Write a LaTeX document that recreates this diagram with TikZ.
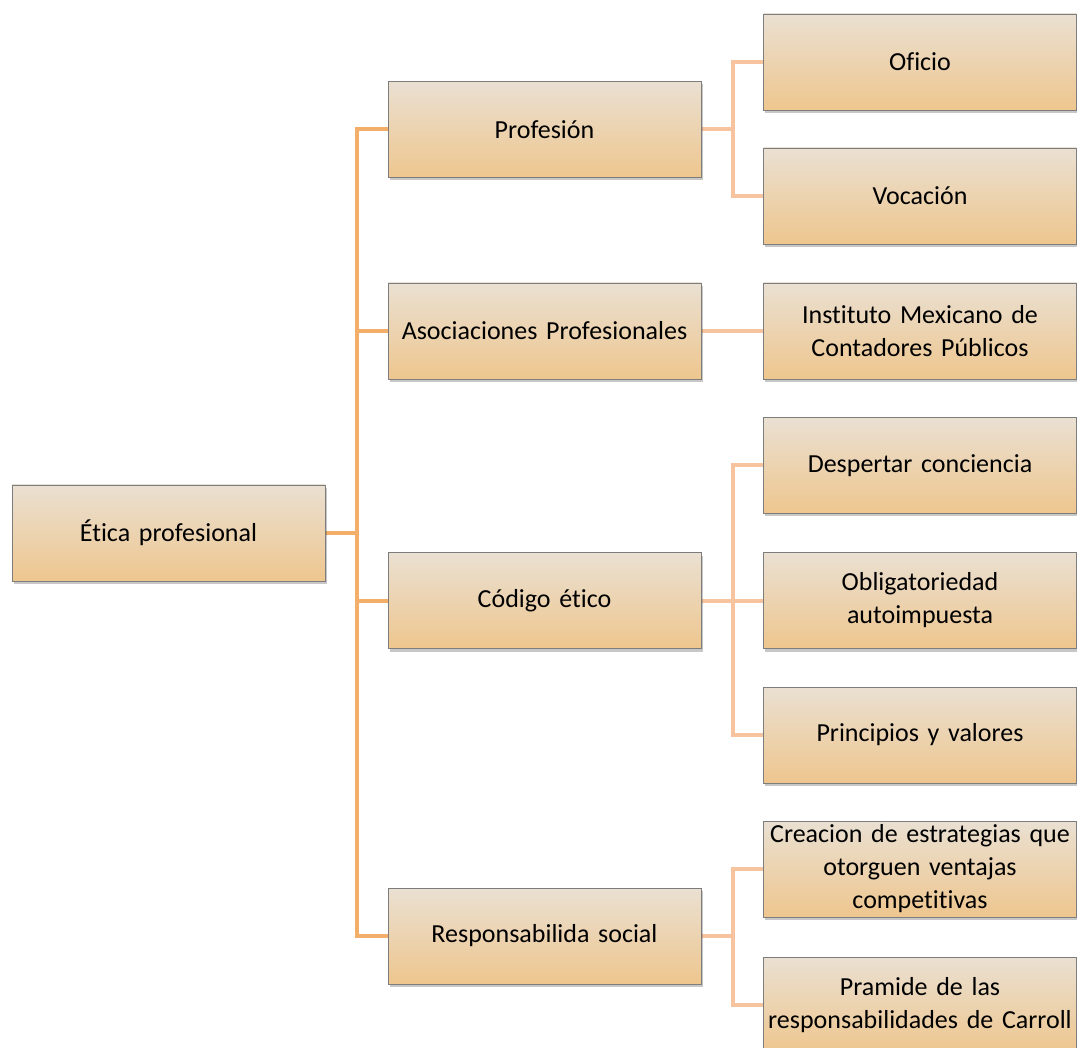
\documentclass[tikz,border=0pt]{standalone}
\usepackage{fontspec}
\setmainfont{Carlito}[Ligatures={NoCommon}]
\usetikzlibrary{shadows,backgrounds}
\definecolor{boxtop}{RGB}{234,224,210}
\definecolor{boxbot}{RGB}{238,198,142}
\definecolor{lineA}{RGB}{243,174,106}
\definecolor{lineB}{RGB}{248,196,160}
\definecolor{boxedge}{RGB}{125,125,125}
\tikzset{
  box/.style={draw=boxedge, line width=0.9pt, top color=boxtop, bottom color=boxbot,
    minimum width=313pt, minimum height=96pt, text width=309pt, align=center,
    inner sep=2pt, font=\fontsize{26}{33}\selectfont,
    drop shadow={shadow xshift=1.5pt, shadow yshift=-3pt, fill=black, opacity=0.22}},
  connA/.style={draw=lineA, line width=4pt},
  connB/.style={draw=lineB, line width=4pt},
}
\begin{document}
\begin{tikzpicture}[x=1pt,y=1pt]
\useasboundingbox (0,0) rectangle (1077,-1048);
\clip (0,0) rectangle (1077,-1048);
% level 0
\node[box] (root) at (168.5,-533) {Ética profesional};
% level 1
\node[box] (prof) at (544.5,-129.5) {Profesión};
\node[box] (asoc) at (544.5,-331) {Asociaciones Profesionales};
\node[box] (cod)  at (544.5,-600.5) {Código ético};
\node[box] (resp) at (544.5,-936) {Responsabilida social};
% level 2
\node[box] (ofi)  at (920,-62) {Oficio};
\node[box] (voc)  at (920,-196) {Vocación};
\node[box] (inst) at (920,-331) {Instituto Mexicano de\\Contadores Públicos};
\node[box] (desp) at (920,-465.5) {Despertar conciencia};
\node[box] (obl)  at (920,-600.5) {Obligatoriedad\\autoimpuesta};
\node[box] (prin) at (920,-735) {Principios y valores};
\node[box] (crea) at (920,-869) {Creacion de estrategias que\\otorguen ventajas\\competitivas};
\node[box] (pram) at (920,-1005) {Pramide de las\\responsabilidades de Carroll};
\begin{scope}[on background layer]
% level 1 connectors
\draw[connA] (root.east) -- +(32,0) |- (prof.west);
\draw[connA] (root.east) -- +(32,0) |- (asoc.west);
\draw[connA] (root.east) -- +(32,0) |- (cod.west);
\draw[connA] (root.east) -- +(32,0) |- (resp.west);
% level 2 connectors
\draw[connB] (prof.east) -- +(32,0) |- (ofi.west);
\draw[connB] (prof.east) -- +(32,0) |- (voc.west);
\draw[connB] (asoc.east) -- (inst.west);
\draw[connB] (cod.east) -- +(32,0) |- (desp.west);
\draw[connB] (cod.east) -- (obl.west);
\draw[connB] (cod.east) -- +(32,0) |- (prin.west);
\draw[connB] (resp.east) -- +(32,0) |- (crea.west);
\draw[connB] (resp.east) -- +(32,0) |- (pram.west);
\end{scope}
\end{tikzpicture}
\end{document}
